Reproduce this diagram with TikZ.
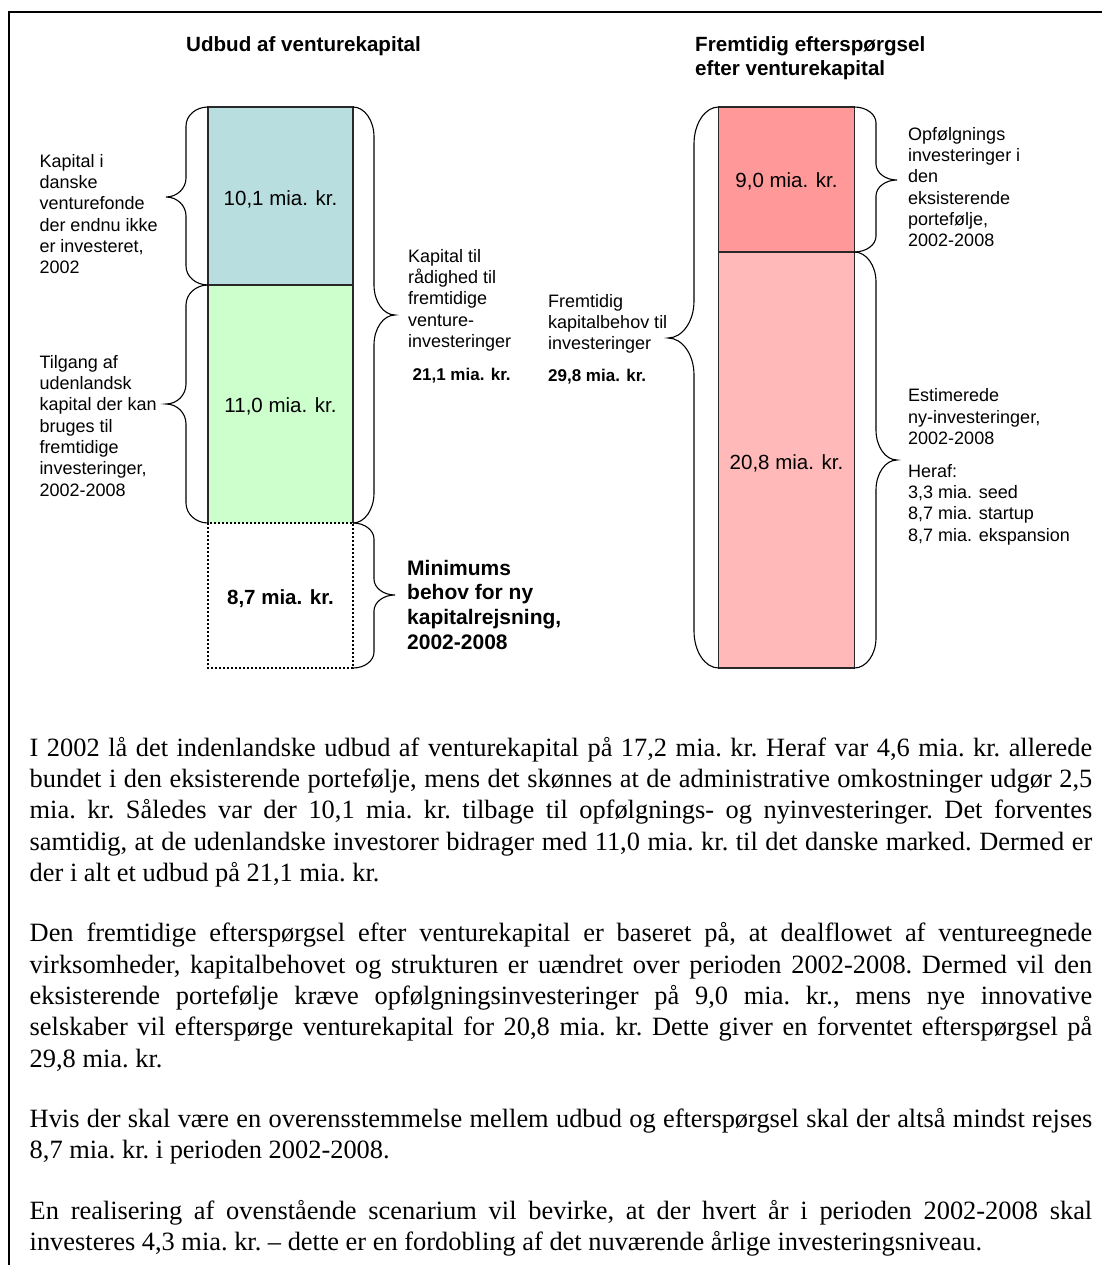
\documentclass[tikz,border=0pt]{standalone}
\usepackage{fontspec}
\setmainfont{Liberation Serif}
\newfontfamily\arialf{Liberation Sans}
\definecolor{blueC}{RGB}{184,222,224}
\definecolor{greenC}{RGB}{204,255,204}
\definecolor{redD}{RGB}{255,153,153}
\definecolor{redL}{RGB}{255,185,185}
\definecolor{lineC}{RGB}{40,40,40}
\tikzset{
  sidetxt/.style={font=\arialf\fontsize{18}{21.3}\selectfont, anchor=north west, inner sep=0pt, align=left},
  valtxt/.style={font=\arialf\bfseries\fontsize{17}{20}\selectfont, anchor=base west, inner sep=0pt},
  headtxt/.style={font=\arialf\bfseries\fontsize{20.6}{24}\selectfont, anchor=north west, inner sep=0pt, align=left},
  minitxt/.style={font=\arialf\bfseries\fontsize{21}{24.7}\selectfont, anchor=north west, inner sep=0pt, align=left},
  barlbl/.style={font=\arialf\fontsize{20.5}{24}\selectfont, anchor=base, inner sep=0pt},
  barlblb/.style={font=\arialf\bfseries\fontsize{20.5}{24}\selectfont, anchor=base, inner sep=0pt},
  barline/.style={draw=lineC, line width=1.2pt},
  dotline/.style={draw=black, line width=2.6pt, dash pattern=on 2.4pt off 1.6pt},
  bracestyle/.style={draw=black, line width=1.1pt},
  bodytxt/.style={font=\fontsize{26.4}{31.3}\selectfont, anchor=north west, inner sep=0pt, text width=1062.5pt, align=justify},
  framestyle/.style={draw=black, line width=2pt}
}
\newcommand\mybrace[7]{% x0, xv, xt, ytop, ytip, ybot, r
  \pgfmathsetmacro\ka{0.5523}%
  \pgfmathsetmacro\ca{#1+\ka*(#2-#1)}%
  \pgfmathsetmacro\cb{#3+\ka*(#2-#3)}%
  \draw[bracestyle] (#1,#4) .. controls (\ca,#4) and (#2,#4+#7-\ka*#7) .. (#2,#4+#7)
    -- (#2,#5-#7) .. controls (#2,#5-#7+\ka*#7) and (\cb,#5) .. (#3,#5)
    .. controls (\cb,#5) and (#2,#5+#7-\ka*#7) .. (#2,#5+#7)
    -- (#2,#6-#7) .. controls (#2,#6-#7+\ka*#7) and (\ca,#6) .. (#1,#6);
}
\begin{document}
\begin{tikzpicture}[x=1pt,y=-1pt]
\useasboundingbox (0,0) rectangle (1101,1265);
\fill[white] (0,0) rectangle (1101,1265);
% frame
\draw[framestyle] (9,1266) -- (9,12) -- (1102,12);

% headings
\node[headtxt] (h1) at (186,34.3) {\strut Udbud af venturekapital};
\node[headtxt] (h2) at (695,34.3) {\strut Fremtidig efterspørgsel\\efter venturekapital};

% left bar
\fill[blueC] (208,107) rectangle (353,285);
\fill[greenC] (208,285) rectangle (353,523);
\draw[barline] (208,523) -- (208,107) -- (353,107) -- (353,523);
\draw[barline] (208,285) -- (353,285);
\draw[dotline] (208,523) rectangle (353,668);
\node[barlbl] (v1) at (280.5,205.3) {10,1 mia. kr.};
\node[barlbl] (v2) at (280.5,412.3) {11,0 mia. kr.};
\node[barlblb] (v3) at (280.5,604) {8,7 mia. kr.};

% right bar
\fill[redD] (718.6,107) rectangle (854.3,252);
\fill[redL] (718.6,252) rectangle (854.3,668);
\draw[barline] (718.6,107) rectangle (854.3,668);
\draw[barline] (718.6,252) -- (854.3,252);
\node[barlbl] (v4) at (786.5,187.3) {9,0 mia. kr.};
\node[barlbl] (v5) at (786.5,469) {20,8 mia. kr.};

% braces
\mybrace{208}{186}{166}{107}{197}{285}{19}
\mybrace{208}{186}{166}{285}{404}{523}{20}
\mybrace{353}{374}{395}{107}{315}{523}{30}
\mybrace{353}{374}{395}{523}{595}{668}{16}
\mybrace{718.6}{694}{668}{107}{338}{668}{37}
\mybrace{854.3}{876}{897}{107}{180}{252}{16}
\mybrace{854.3}{876}{897}{252}{460}{668}{30}

% side texts
\node[sidetxt] (t1) at (39.3,152.1) {\strut Kapital i\\danske\\venturefonde\\der endnu ikke\\er investeret,\\2002};
\node[sidetxt] (t2) at (39.3,353.1) {\strut Tilgang af\\udenlandsk\\kapital der kan\\bruges til\\fremtidige\\investeringer,\\2002-2008};
\node[sidetxt] (t3) at (408,247.1) {\strut Kapital til\\rådighed til\\fremtidige\\venture-\\investeringer};
\node[valtxt] (t3v) at (412.5,380) {21,1 mia. kr.};
\node[sidetxt] (t4) at (548,292.1) {\strut Fremtidig\\kapitalbehov til\\investeringer};
\node[valtxt] (t4v) at (548,381) {29,8 mia. kr.};
\node[minitxt] (t5) at (407,557.7) {\strut Minimums\\behov for ny\\kapitalrejsning,\\2002-2008};
\node[sidetxt] (t6) at (908,125.1) {\strut Opfølgnings\\investeringer i\\den\\eksisterende\\portefølje,\\2002-2008};
\node[sidetxt] (t7) at (908,386.8) {\strut Estimerede\\ny-investeringer,\\2002-2008\\[11.4pt]Heraf:\\3,3 mia. seed\\8,7 mia. startup\\8,7 mia. ekspansion};

% body text
\node[bodytxt] (body) at (29.5,734.1) {\parindent=0pt\frenchspacing\hyphenpenalty=10000\exhyphenpenalty=10000\tolerance=9999\emergencystretch=20pt
\strut I 2002 lå det indenlandske udbud af venturekapital på 17,2 mia. kr. Heraf var 4,6 mia. kr. allerede\linebreak
bundet i den eksisterende portefølje, mens det skønnes at de administrative omkostninger udgør 2,5\linebreak
mia. kr. Således var der 10,1 mia. kr. tilbage til opfølgnings- og nyinvesteringer. Det forventes\linebreak
samtidig, at de udenlandske investorer bidrager med 11,0 mia. kr. til det danske marked. Dermed er\linebreak
der i alt et udbud på 21,1 mia. kr.\par\vspace{29.2pt}
Den fremtidige efterspørgsel efter venturekapital er baseret på, at dealflowet af ventureegnede\linebreak
virksomheder, kapitalbehovet og strukturen er uændret over perioden 2002-2008. Dermed vil den\linebreak
eksisterende portefølje kræve opfølgningsinvesteringer på 9,0 mia. kr., mens nye innovative\linebreak
selskaber vil efterspørge venturekapital for 20,8 mia. kr. Dette giver en forventet efterspørgsel på\linebreak
29,8 mia. kr.\par\vspace{29.2pt}
Hvis der skal være en overensstemmelse mellem udbud og efterspørgsel skal der altså mindst rejses\linebreak
8,7 mia. kr. i perioden 2002-2008.\par\vspace{29.2pt}
En realisering af ovenstående scenarium vil bevirke, at der hvert år i perioden 2002-2008 skal\linebreak
investeres 4,3 mia. kr. – dette er en fordobling af det nuværende årlige investeringsniveau.\par};
\end{tikzpicture}
\end{document}
